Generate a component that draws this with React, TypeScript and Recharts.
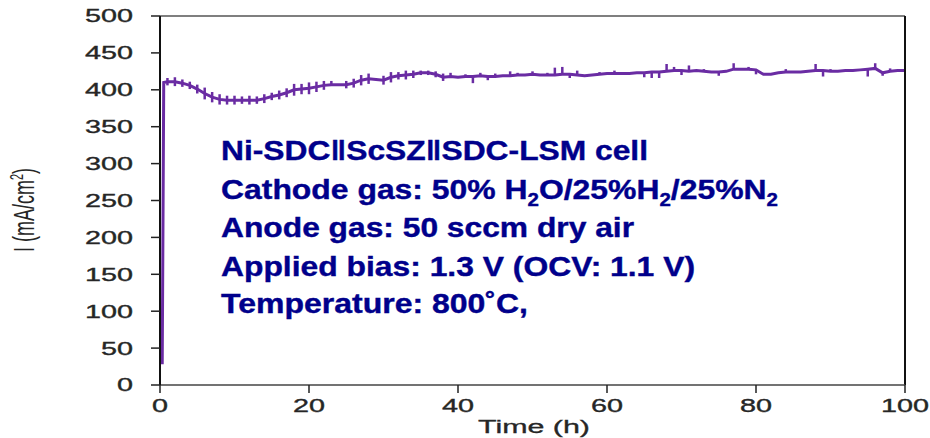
import React from "react"
import { LineChart, Line, XAxis, YAxis, ErrorBar, ReferenceLine } from "recharts"

// time (h)
const hours = [
  0.3, 0.5, 1, 2, 3, 4, 5, 6, 7, 8, 9, 10, 11, 12, 13, 14, 15, 16, 17, 18, 19, 20,
  21, 22, 23, 24, 25, 26, 27, 28, 29, 30, 31, 32, 33, 34, 35, 36, 37, 38, 39, 40,
  41, 42, 43, 44, 45, 46, 47, 48, 49, 50, 51, 52, 53, 54, 55, 56, 57, 58, 59, 60,
  61, 62, 63, 64, 65, 66, 67, 68, 69, 70, 71, 72, 73, 74, 75, 76, 77, 78, 79, 80,
  81, 82, 83, 84, 85, 86, 87, 88, 89, 90, 91, 92, 93, 94, 95, 96, 97, 98, 99, 100,
]

// current density (mA/cm2)
const current = [
  28, 410, 411, 411, 409, 406, 401, 395, 390, 387, 386, 386, 386, 386, 386, 388, 391, 393, 396, 400, 401, 402,
  404, 406, 407, 407, 407, 409, 413, 415, 414, 413, 417, 419, 420, 421, 423, 423, 421, 417, 418, 417,
  418, 418, 419, 418, 418, 419, 419, 420, 420, 421, 420, 420, 420, 421, 421, 420, 419, 420, 421, 422,
  422, 422, 422, 423, 423, 424, 424, 425, 426, 426, 425, 426, 425, 424, 424, 425, 428, 428, 428, 427,
  421, 421, 423, 424, 424, 424, 425, 426, 426, 425, 425, 426, 426, 427, 428, 429, 423, 425, 426, 426,
]

// short excursions below / above each reading
const dipLow = [
  0, 0, 5, 6, 5, 5, 6, 8, 7, 7, 6, 6, 5, 6, 5, 6, 5, 6, 6, 8, 7, 8,
  7, 6, 0, 0, 5, 6, 7, 7, 0, 6, 7, 5, 6, 5, 3, 3, 4, 5, 0, 0,
  0, 9, 0, 5, 0, 0, 0, 0, 0, 0, 0, 0, 0, 0, 5, 0, 0, 0, 0, 0,
  0, 0, 0, 0, 6, 8, 8, 0, 0, 6, 0, 0, 0, 0, 5, 0, 0, 0, 0, 6,
  0, 0, 0, 0, 0, 0, 0, 0, 8, 0, 0, 0, 0, 0, 10, 0, 4, 0, 0, 0,
]
const spikeHigh = [
  0, 0, 5, 6, 5, 5, 6, 8, 7, 7, 6, 6, 5, 6, 5, 6, 5, 6, 6, 8, 7, 8,
  7, 6, 5, 0, 5, 6, 7, 7, 0, 6, 7, 5, 6, 5, 3, 3, 4, 5, 5, 0,
  3, 0, 4, 0, 4, 0, 6, 3, 0, 4, 0, 3, 10, 10, 0, 6, 0, 0, 3, 0,
  4, 0, 0, 0, 0, 0, 0, 10, 5, 0, 8, 0, 3, 0, 0, 0, 8, 0, 3, 0,
  0, 0, 0, 4, 0, 0, 0, 9, 0, 3, 0, 0, 0, 0, 0, 7, 0, 4, 0, 0,
]

const xTicks = [0, 20, 40, 60, 80, 100]
const yTicks = [0, 50, 100, 150, 200, 250, 300, 350, 400, 450, 500]

const data = hours.map((h, i) => ({
  time: h,
  current: current[i],
  err: [dipLow[i], spikeHigh[i]],
}))

const PURPLE = "#6a2ca3"
const NAVY = "#00008b"
const INK = "#262626"
const TICK_FONT = "'Liberation Sans', Arial, sans-serif"

function YTick({ x, y, payload }: any) {
  const s = String(payload.value)
  return (
    <text
      x={x}
      y={y}
      dy="0.36em"
      textAnchor="end"
      fontSize={18}
      fontFamily={TICK_FONT}
      fill={INK}
      stroke={INK}
      strokeWidth={0.35}
      textLength={16 * s.length}
      lengthAdjust="spacingAndGlyphs"
    >
      {s}
    </text>
  )
}

function XTick({ x, y, payload }: any) {
  const s = String(payload.value)
  return (
    <text
      x={x}
      y={y}
      dy="0.72em"
      textAnchor="middle"
      fontSize={18}
      fontFamily={TICK_FONT}
      fill={INK}
      stroke={INK}
      strokeWidth={0.35}
      textLength={16 * s.length}
      lengthAdjust="spacingAndGlyphs"
    >
      {s}
    </text>
  )
}

const noteStyle = {
  fontFamily: "'Liberation Sans', Arial, sans-serif",
  fontWeight: 700,
  fontSize: 28,
  fill: NAVY,
  stroke: NAVY,
  strokeWidth: 0.4,
}

export default function App() {
  return (
    <div style={{ position: "absolute", left: 0, top: 0, width: 930, height: 438, background: "#fff" }}>
      <LineChart width={930} height={438} data={data} margin={{ top: 16, right: 25, bottom: 23, left: 0 }}>
        <XAxis
          dataKey="time"
          type="number"
          domain={[0, 100]}
          ticks={xTicks}
          height={30}
          tickSize={8}
          tickMargin={6}
          tick={<XTick />}
          axisLine={{ stroke: "#444", strokeWidth: 1.5 }}
          tickLine={{ stroke: "#222", strokeWidth: 1.5 }}
        />
        <YAxis
          type="number"
          domain={[0, 500]}
          ticks={yTicks}
          width={160}
          tickSize={9}
          tickMargin={18}
          tick={<YTick />}
          axisLine={{ stroke: "#111", strokeWidth: 2 }}
          tickLine={{ stroke: "#222", strokeWidth: 1.5 }}
        />
        <Line
          dataKey="current"
          type="linear"
          stroke={PURPLE}
          strokeWidth={3}
          dot={false}
          isAnimationActive={false}
        >
          <ErrorBar dataKey="err" width={0} stroke={PURPLE} strokeWidth={2.5} direction="y" isAnimationActive={false} />
        </Line>
        <ReferenceLine y={500} stroke="#555" strokeWidth={1.5} />
        <ReferenceLine x={100} stroke="#111" strokeWidth={2} />
      </LineChart>

      <svg width={930} height={438} style={{ position: "absolute", left: 0, top: 0, pointerEvents: "none" }}>
        <text
          transform="translate(34,210) rotate(-90) scale(1,1.6)"
          textAnchor="middle"
          fontSize={18}
          fontFamily={TICK_FONT}
          fill={INK}
          textLength={84}
          lengthAdjust="spacingAndGlyphs"
        >
          I (mA/cm<tspan fontSize={11} dy={-7}>2</tspan>
          <tspan dy={7}>)</tspan>
        </text>
        <text
          x={478}
          y={433}
          fontSize={18}
          fontFamily={TICK_FONT}
          fill={INK}
          stroke={INK}
          strokeWidth={0.3}
          textLength={112}
          lengthAdjust="spacingAndGlyphs"
        >
          Time (h)
        </text>

        <text x={221} y={160} style={noteStyle} textLength={427} lengthAdjust="spacingAndGlyphs">
          Ni-SDC‖ScSZ‖SDC-LSM cell
        </text>
        <text x={221} y={199} style={noteStyle} textLength={557} lengthAdjust="spacingAndGlyphs">
          Cathode gas: 50% H<tspan fontSize={18} dy={7}>2</tspan>
          <tspan dy={-7}>O/25%H</tspan>
          <tspan fontSize={18} dy={7}>2</tspan>
          <tspan dy={-7}>/25%N</tspan>
          <tspan fontSize={18} dy={7}>2</tspan>
        </text>
        <text x={221} y={237} style={noteStyle} textLength={413} lengthAdjust="spacingAndGlyphs">
          Anode gas: 50 sccm dry air
        </text>
        <text x={221} y={276} style={noteStyle} textLength={474} lengthAdjust="spacingAndGlyphs">
          Applied bias: 1.3 V (OCV: 1.1 V)
        </text>
        <text x={221} y={313} style={noteStyle} textLength={307} lengthAdjust="spacingAndGlyphs">
          Temperature: 800˚C,
        </text>
      </svg>
    </div>
  )
}
